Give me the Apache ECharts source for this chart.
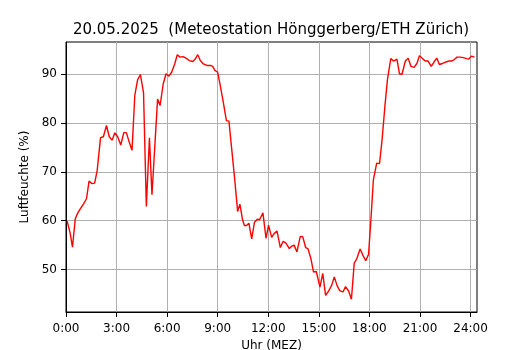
<!DOCTYPE html>
<html><head><meta charset="utf-8">
<script src="https://cdn.jsdelivr.net/npm/echarts@6/dist/echarts.min.js"></script>
<style>html,body{margin:0;padding:0;background:#fff}#c{width:530px;height:350px}</style>
</head><body><div id="c"></div>
<script>
// time of each reading in minutes after midnight (MEZ)
const times = [4,15,23,33,42,52,62,73,82,92,102,111,123,133,144,154,164,174,184,195,206,215,225,235,245,255,265,276,286,297,306,317,326,335,346,356,366,376,387,396,406,417,427,439,451,460,469,478,489,502,514,522,530,540,548,558,571,580,590,600,611,619,628,635,643,651,661,671,681,689,701,712,721,732,740,751,763,773,783,795,804,812,822,834,843,853,861,872,881,891,904,914,924,935,946,955,965,974,986,995,1006,1016,1026,1035,1047,1057,1067,1077,1086,1094,1106,1116,1125,1135,1144,1156,1166,1178,1187,1196,1208,1218,1228,1239,1249,1258,1269,1279,1289,1300,1311,1320,1329,1340,1352,1362,1372,1382,1392,1403,1414,1426,1434,1443,1454];
// relative humidity (%)
const humidity = [59.9,57.4,54.6,60.4,61.6,62.5,63.4,64.5,68.1,67.6,67.7,70.3,77.0,77.2,79.5,77.2,76.5,78.0,77.2,75.5,78.1,78.0,76.1,74.4,85.7,88.9,89.9,86.2,62.9,77.0,65.3,76.1,84.9,83.6,88.0,90.1,89.6,90.4,92.1,94.0,93.5,93.6,93.3,92.8,92.6,93.1,94.0,92.8,92.1,91.8,91.8,91.6,90.8,90.4,88.0,84.9,80.5,80.4,74.6,68.8,61.9,63.4,60.3,59.0,59.0,59.5,56.3,59.7,60.3,60.2,61.6,56.4,59.1,56.6,57.3,57.9,54.5,55.8,55.4,54.3,54.8,55.0,53.6,56.8,56.7,54.5,54.3,52.2,49.5,49.6,46.4,49.2,44.7,45.6,46.8,48.5,46.7,45.7,45.4,46.5,45.6,43.9,51.3,52.2,54.2,52.9,51.8,53.1,60.8,68.3,71.8,71.7,76.5,83.3,88.8,93.2,92.7,93.1,90.1,90.0,92.7,93.3,91.6,91.4,92.2,93.8,93.2,92.7,92.7,91.6,92.6,93.3,92.0,92.2,92.5,92.7,92.7,93.0,93.5,93.5,93.4,93.2,93.1,93.7,93.5];
const xTicks = [0,180,360,540,720,900,1080,1260,1440];
const xTickLabels = ['0:00','3:00','6:00','9:00','12:00','15:00','18:00','21:00','24:00'];
const yTicks = [50,60,70,80,90];
const titleText = '20.05.2025  (Meteostation Hönggerberg/ETH Zürich)';
const xName = 'Uhr (MEZ)';
const yName = 'Luftfeuchte (%)';

const FONT = 'DejaVu Sans';
const chart = echarts.init(document.getElementById('c'), null, {renderer:'canvas'});
const data = times.map((t,i)=>[t, humidity[i]]);
chart.setOption({
  animation:false,
  backgroundColor:'#fff',
  title:{text:titleText, left:266, top:18, textAlign:'center',
    textStyle:{fontFamily:FONT, fontSize:15, fontWeight:'normal', color:'#000'}},
  grid:{left:66, right:53, top:42, bottom:38, show:true, borderColor:'#000', borderWidth:1,
    backgroundColor:'transparent', containLabel:false, outerBoundsMode:'none'},
  xAxis:{type:'value', min:0, max:1463,
    name:xName, nameLocation:'middle', nameGap:26,
    nameTextStyle:{fontFamily:FONT, fontSize:12, color:'#000'},
    axisLine:{show:true, lineStyle:{color:'#000', width:1}},
    axisTick:{show:true, customValues:xTicks, length:5, lineStyle:{color:'#000'}},
    axisLabel:{customValues:xTicks, margin:11, fontFamily:FONT, fontSize:12, color:'#000',
      formatter:(v)=>{const i=xTicks.indexOf(v); return i>=0?xTickLabels[i]:'';}},
    splitLine:{show:true, lineStyle:{color:'#b0b0b0', width:1}}
  },
  yAxis:{type:'value', min:41.3, max:96.6,
    name:yName, nameLocation:'middle', nameGap:23,
    nameTextStyle:{fontFamily:FONT, fontSize:12, color:'#000'},
    axisLine:{show:true, lineStyle:{color:'#000', width:1}},
    axisTick:{show:true, customValues:yTicks, length:5, lineStyle:{color:'#000'}},
    axisLabel:{customValues:yTicks, margin:9, fontFamily:FONT, fontSize:12, color:'#000'},
    splitLine:{show:true, lineStyle:{color:'#b0b0b0', width:1}}
  },
  series:[{type:'line', data:data, showSymbol:false, lineStyle:{color:'#ff0000', width:1.4}, itemStyle:{color:'#ff0000'}, z:3}]
});
</script></body></html>
